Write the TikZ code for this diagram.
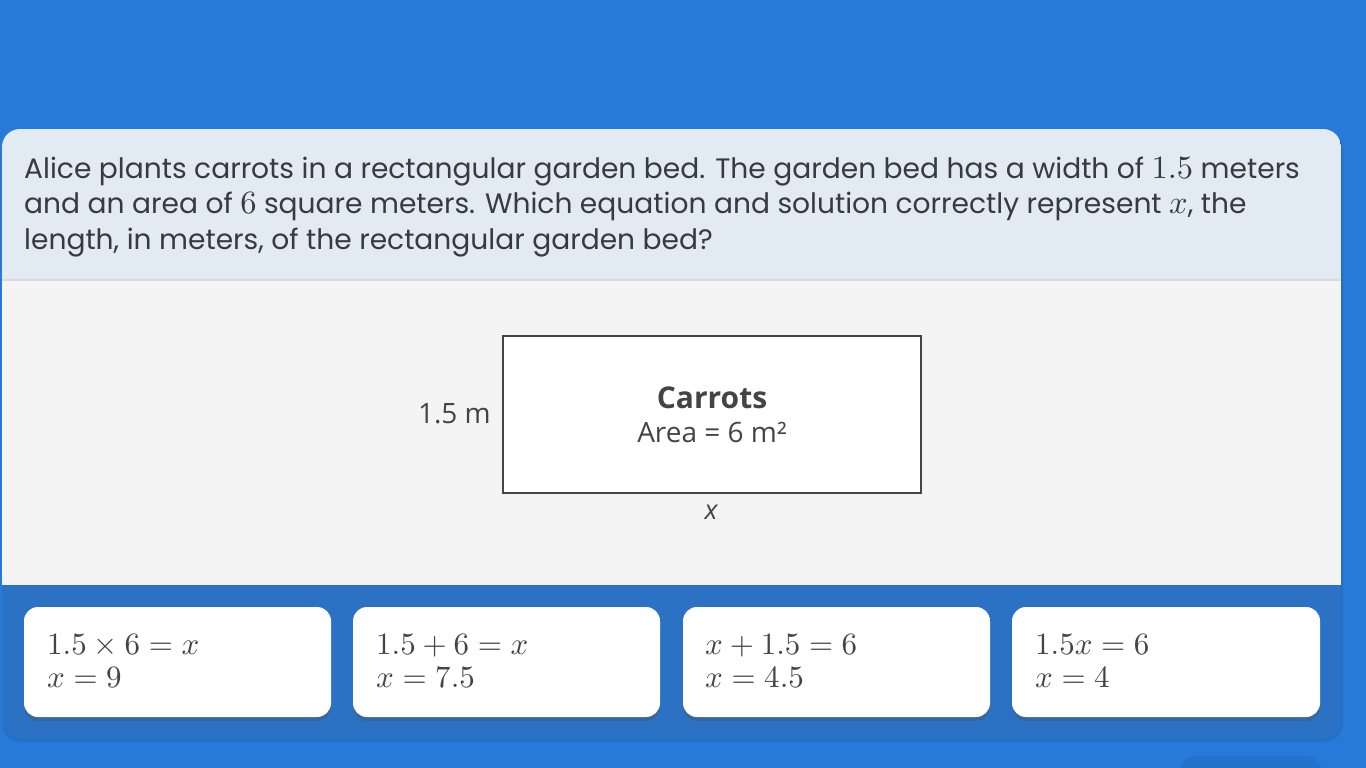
\documentclass[tikz,border=0pt]{standalone}
\usepackage{graphicx}
\usepackage[no-math]{fontspec}
\setmainfont{Poppins}
\newfontfamily\osans{Open Sans}
\usetikzlibrary{shadows}
\newcommand\qmath[1]{{\fontsize{10}{12}\selectfont\scalebox{3.25}{$#1$}}}
\newcommand\amath[1]{{\fontsize{10}{12}\selectfont\scalebox{3.1}{$#1$}}}
\definecolor{outerblue}{RGB}{39,122,217}
\definecolor{bottomblue}{RGB}{44,114,196}
\definecolor{headbg}{RGB}{226,234,243}
\definecolor{sepcol}{RGB}{216,220,226}
\definecolor{contentbg}{RGB}{244,244,244}
\definecolor{txt}{RGB}{55,58,64}
\definecolor{dtxt}{RGB}{68,68,68}
\begin{document}
\begin{tikzpicture}[x=1pt,y=-1pt,
  answercard/.style={fill=white, rounded corners=14pt,
    drop shadow={shadow xshift=0pt, shadow yshift=-4pt, opacity=0.3, fill=black!70}},
  qline/.style={anchor=base west, inner sep=0pt, text=txt, font=\fontsize{28.1}{35.5}\selectfont},
  mathtxt/.style={anchor=base west, inner sep=0pt, text=dtxt},
  dlabel/.style={inner sep=0pt, text=dtxt, font=\osans\fontsize{28}{32}\selectfont}]
\useasboundingbox (0,0) rectangle (1366,768);
\fill[outerblue] (0,0) rectangle (1366,768);
% faint shape at bottom right
\begin{scope}
\clip (0,0) rectangle (1366,768);
\fill[black, opacity=0.06, rounded corners=16pt] (1180,756) rectangle (1322,800);
\end{scope}
% main card
\fill[black, opacity=0.08, rounded corners=18pt] (2,131) rectangle (1343,742);
\begin{scope}
\clip[rounded corners=18pt] (2,129) rectangle (1341,738);
\fill[bottomblue] (0,129) rectangle (1341,738);
\fill[headbg] (2,129) rectangle (1341,279);
\fill[sepcol] (2,278.5) rectangle (1341,281);
\fill[contentbg] (2,281) rectangle (1341,585);
\end{scope}
% question
\node[qline] (q1) at (24,178)
  {Alice plants carrots in a rectangular garden bed. The garden bed has a width of \qmath{1.5} meters};
\node[qline] (q2) at (24,213.5)
  {and an area of \qmath{6} square meters. Which equation and solution correctly represent \qmath{x}, the};
\node[qline] (q3) at (24,249)
  {length, in meters, of the rectangular garden bed?};
% diagram
\node[draw=dtxt, line width=1.4pt, fill=white, minimum width=418pt, minimum height=157pt,
  inner sep=0pt] (bed) at (712,414.5) {};
\node[dlabel, font=\osans\bfseries\fontsize{30}{32}\selectfont] (carrots) at (712,398) {Carrots};
\node[dlabel] (area) at (712,432) {Area = 6 m²};
\node[dlabel, anchor=east] (w) at (491,414) {1.5 m};
\node[dlabel, font=\osans\itshape\fontsize{27}{32}\selectfont] (len) at (711,512) {x};
% answer cards
\fill[answercard] (24,607) rectangle (331,717);
\fill[answercard] (353,607) rectangle (660,717);
\fill[answercard] (683,607) rectangle (990,717);
\fill[answercard] (1012,607) rectangle (1320,717);
\node[mathtxt] (a1) at (47,654) {\amath{1.5\times 6=x}};
\node[mathtxt] (a1b) at (47,687) {\amath{x=9}};
\node[mathtxt] (a2) at (376,654) {\amath{1.5+6=x}};
\node[mathtxt] (a2b) at (376,687) {\amath{x=7.5}};
\node[mathtxt] (a3) at (705,654) {\amath{x+1.5=6}};
\node[mathtxt] (a3b) at (705,687) {\amath{x=4.5}};
\node[mathtxt] (a4) at (1035,654) {\amath{1.5x=6}};
\node[mathtxt] (a4b) at (1035,687) {\amath{x=4}};
\end{tikzpicture}
\end{document}
